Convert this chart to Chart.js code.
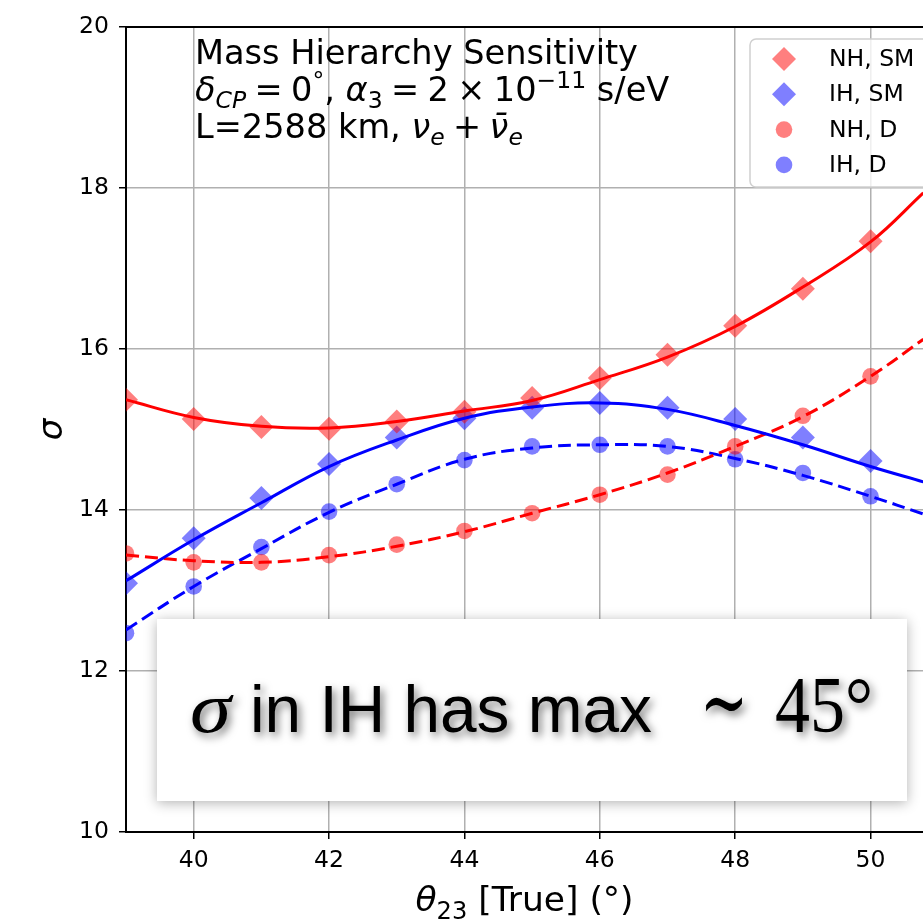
<!DOCTYPE html>
<html>
<head>
<meta charset="utf-8">
<script src="https://cdn.jsdelivr.net/npm/chart.js@4.4.1/dist/chart.umd.min.js"></script>
<style>
html, body { margin: 0; padding: 0; background: #fff; }
#wrap { width: 923px; height: 922px; position: relative; }
</style>
</head>
<body>
<div id="wrap"><canvas id="grafico"></canvas></div>
<script>
// theta23 verdadero (grados)
const theta = [39, 40, 41, 42, 43, 44, 45, 46, 47, 48, 49, 50];

// puntos simulados (sigma)
const nhSM = [15.37, 15.13, 15.03, 15.01, 15.10, 15.22, 15.39, 15.64, 15.93, 16.29, 16.75, 17.34];
const ihSM = [13.09, 13.65, 14.15, 14.57, 14.90, 15.14, 15.27, 15.33, 15.27, 15.13, 14.90, 14.61];
const nhD  = [13.46, 13.35, 13.35, 13.44, 13.57, 13.74, 13.96, 14.19, 14.44, 14.79, 15.17, 15.66];
const ihD  = [12.47, 13.05, 13.54, 13.98, 14.32, 14.62, 14.79, 14.81, 14.79, 14.63, 14.46, 14.17];

// curvas de ajuste
const thetaFit = [39, 40, 41, 42, 43, 44, 45, 46, 47, 48, 49, 50, 50.78];
const nhSMfit = [15.37, 15.15, 15.04, 15.02, 15.10, 15.23, 15.36, 15.62, 15.90, 16.28, 16.77, 17.33, 17.94];
const ihSMfit = [13.12, 13.63, 14.09, 14.54, 14.87, 15.14, 15.28, 15.33, 15.25, 15.05, 14.81, 14.54, 14.35];
const nhDfit  = [13.44, 13.37, 13.35, 13.42, 13.55, 13.73, 13.96, 14.19, 14.46, 14.79, 15.16, 15.66, 16.12];
const ihDfit  = [12.51, 13.05, 13.52, 13.97, 14.32, 14.63, 14.77, 14.81, 14.79, 14.64, 14.43, 14.17, 13.95];

const xTicks = [40, 42, 44, 46, 48, 50];
const yTicks = [10, 12, 14, 16, 18, 20];

const ROJO = '#ff0000';
const AZUL = '#0000ff';
const ROJO_A = 'rgba(255, 0, 0, 0.5)';
const AZUL_A = 'rgba(0, 0, 255, 0.5)';
const GUION = [13, 6];

function pares(xs, ys) {
    return xs.map((x, i) => ({ x: x, y: ys[i] }));
}

function linea(ys, color, dash) {
    return {
        type: 'line',
        data: pares(thetaFit, ys),
        borderColor: color,
        borderWidth: 3,
        borderDash: dash,
        pointRadius: 0,
        tension: 0.4,
        fill: false,
        clip: 0
    };
}

function puntos(label, ys, color, estilo, radio) {
    return {
        type: 'scatter',
        label: label,
        data: pares(theta, ys),
        backgroundColor: color,
        borderWidth: 0,
        pointStyle: estilo,
        pointRadius: radio,
        enLeyenda: true,
        clip: 0
    };
}

// texto con subindices / superindices
function textoRico(ctx, partes, x, y, size, familia, align) {
    const fuente = p => (p.it ? 'italic ' : '') + ((p.sub || p.sup) ? size * 0.7 : size) + 'px ' + familia;
    let total = 0;
    partes.forEach(p => { ctx.font = fuente(p); p.w = ctx.measureText(p.t).width; total += p.w; });
    let cx = align === 'center' ? x - total / 2 : x;
    partes.forEach(p => {
        ctx.font = fuente(p);
        const dy = p.sub ? size * 0.22 : (p.sup ? -size * 0.4 : 0);
        ctx.fillText(p.t, cx, y + dy);
        cx += p.w;
    });
}

// texto ajustado a un ancho
function textoAncho(ctx, t, font, x0, x1, y) {
    ctx.font = font;
    const w = ctx.measureText(t).width;
    ctx.save();
    ctx.translate(x0, y);
    ctx.scale((x1 - x0) / w, 1);
    ctx.fillText(t, 0, 0);
    ctx.restore();
}

const esp = '\u2005'; // espacio fino como en mathtext

const decoracion = {
    id: 'decoracion',
    afterDraw(chart) {
        const ctx = chart.ctx;
        const area = chart.chartArea;
        ctx.save();
        ctx.fillStyle = '#000';
        ctx.textAlign = 'left';
        ctx.textBaseline = 'alphabetic';

        // titulos de ejes
        textoRico(ctx, [
            { t: 'θ', it: true }, { t: '23', sub: true }, { t: ' [True] (°)' }
        ], (area.left + area.right) / 2, 911, 34.5, '"DejaVu Sans"', 'center');

        ctx.save();
        ctx.translate(62, (area.top + area.bottom) / 2);
        ctx.rotate(-Math.PI / 2);
        ctx.textAlign = 'center';
        ctx.font = 'italic 34px "DejaVu Sans"';
        ctx.fillText('σ', 0, 0);
        ctx.restore();

        // bloque de texto
        const fam = '"DejaVu Sans"';
        textoRico(ctx, [{ t: 'Mass Hierarchy Sensitivity' }], 195, 64, 33.6, fam, 'left');
        textoRico(ctx, [
            { t: 'δ', it: true }, { t: 'CP', it: true, sub: true }, { t: esp + '=' + esp + '0' }, { t: '°', sup: true },
            { t: ', ' }, { t: 'α', it: true }, { t: '3', sub: true }, { t: esp + '=' + esp + '2' + esp + '×' + esp + '10' },
            { t: '−11', sup: true }, { t: ' s/eV' }
        ], 195, 101, 33.6, fam, 'left');
        textoRico(ctx, [
            { t: 'L=2588 km, ' }, { t: 'ν', it: true }, { t: 'e', it: true, sub: true },
            { t: esp + '+' + esp }, { t: 'ν̄', it: true }, { t: 'e', it: true, sub: true }
        ], 195, 138, 33.6, fam, 'left');

        // leyenda
        ctx.save();
        ctx.beginPath();
        ctx.roundRect(750, 39, 200, 148, 6);
        ctx.fillStyle = 'rgba(255, 255, 255, 0.8)';
        ctx.fill();
        ctx.strokeStyle = '#d0d0d0';
        ctx.lineWidth = 1.5;
        ctx.stroke();
        ctx.restore();
        const items = chart.data.datasets.filter(d => d.enLeyenda);
        items.forEach((d, i) => {
            const y = 59 + i * 35.3;
            ctx.fillStyle = d.backgroundColor;
            ctx.strokeStyle = d.backgroundColor;
            ctx.lineWidth = 0;
            Chart.helpers.drawPoint(ctx, { pointStyle: d.pointStyle, radius: d.pointRadius, borderWidth: 0, rotation: 0 }, 784, y);
            ctx.fillStyle = '#000';
            ctx.font = '23.5px "DejaVu Sans"';
            ctx.textBaseline = 'middle';
            ctx.fillText(d.label, 829, y + 1);
            ctx.textBaseline = 'alphabetic';
        });

        // recuadro con sombra
        ctx.save();
        ctx.shadowColor = 'rgba(0, 0, 0, 0.3)';
        ctx.shadowBlur = 12;
        ctx.shadowOffsetY = 2;
        ctx.fillStyle = '#fff';
        ctx.fillRect(157, 619, 750, 182);
        ctx.restore();

        ctx.save();
        ctx.shadowColor = 'rgba(0, 0, 0, 0.55)';
        ctx.shadowBlur = 9;
        ctx.shadowOffsetX = 3;
        ctx.shadowOffsetY = 4;
        ctx.fillStyle = '#000';
        textoAncho(ctx, 'σ', 'italic 72px "Liberation Serif"', 190, 231, 732);
        textoAncho(ctx, 'in IH has max', '67px "Liberation Sans"', 250, 652, 732);
        textoAncho(ctx, '∼', '88px "DejaVu Serif"', 700, 748, 732);
        textoAncho(ctx, '45°', '81px "Liberation Serif"', 775, 873, 732);
        ctx.restore();

        ctx.restore();
    }
};

const ejeX = {
    type: 'linear',
    position: 'bottom',
    min: 39,
    max: 50.775,
    afterBuildTicks: s => { s.ticks = xTicks.map(v => ({ value: v })); },
    afterFit: s => { s.height = 90; s.paddingLeft = 0; s.paddingRight = 0; },
    grid: { color: '#b0b0b0', lineWidth: 1.5, tickColor: '#000', tickLength: 7, tickWidth: 1.5 },
    border: { color: '#000', width: 2 },
    ticks: { color: '#000', font: { family: 'DejaVu Sans', size: 23.5 }, padding: 8, maxRotation: 0 }
};

const ejeY = {
    type: 'linear',
    min: 10,
    max: 20,
    afterBuildTicks: s => { s.ticks = yTicks.map(v => ({ value: v })); },
    afterFit: s => { s.width = 126; s.paddingTop = 0; s.paddingBottom = 0; },
    grid: { color: '#b0b0b0', lineWidth: 1.5, tickColor: '#000', tickLength: 7, tickWidth: 1.5 },
    border: { color: '#000', width: 2 },
    ticks: { color: '#000', font: { family: 'DejaVu Sans', size: 23.5 }, padding: 10 }
};

const ejeTop = {
    type: 'linear',
    position: 'top',
    min: 39,
    max: 50.775,
    afterBuildTicks: s => { s.ticks = []; },
    afterFit: s => { s.height = 27; s.paddingLeft = 0; s.paddingRight = 0; },
    grid: { display: false },
    border: { display: true, color: '#000', width: 2 },
    ticks: { display: false }
};

const ctx = document.getElementById('grafico').getContext('2d');
new Chart(ctx, {
    data: {
        datasets: [
            linea(nhSMfit, ROJO, []),
            linea(ihSMfit, AZUL, []),
            linea(nhDfit, ROJO, GUION),
            linea(ihDfit, AZUL, GUION),
            puntos('NH, SM', nhSM, ROJO_A, 'rectRot', 12),
            puntos('IH, SM', ihSM, AZUL_A, 'rectRot', 12),
            puntos('NH, D', nhD, ROJO_A, 'circle', 8.3),
            puntos('IH, D', ihD, AZUL_A, 'circle', 8.3)
        ]
    },
    options: {
        responsive: true,
        maintainAspectRatio: false,
        animation: false,
        layout: { padding: 0, autoPadding: false },
        plugins: { legend: { display: false }, tooltip: { enabled: false } },
        scales: { x: ejeX, y: ejeY, x2: ejeTop }
    },
    plugins: [decoracion]
});
</script>
</body>
</html>
